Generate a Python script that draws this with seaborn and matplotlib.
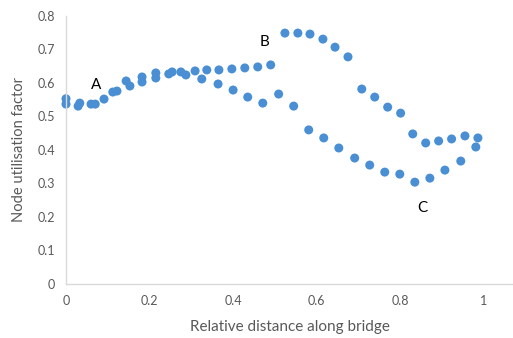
import matplotlib
matplotlib.use("Agg")
import matplotlib.pyplot as plt
import seaborn as sns
import pandas as pd

# values
distance = [0.0, 0.0, 0.029, 0.033, 0.06, 0.07, 0.091, 0.112, 0.122, 0.144, 0.153,
            0.182, 0.182, 0.215, 0.215, 0.246, 0.254, 0.275, 0.287, 0.309, 0.325,
            0.337, 0.364, 0.366, 0.397, 0.40, 0.428, 0.435, 0.459, 0.471, 0.490,
            0.509, 0.524, 0.545, 0.555, 0.581, 0.584, 0.615, 0.617, 0.644, 0.653,
            0.675, 0.691, 0.708, 0.727, 0.739, 0.763, 0.770, 0.799, 0.801, 0.830,
            0.835, 0.861, 0.871, 0.892, 0.907, 0.923, 0.945, 0.955, 0.981, 0.986]
utilisation = [0.553, 0.537, 0.531, 0.540, 0.537, 0.537, 0.552, 0.573, 0.576, 0.606, 0.591,
               0.618, 0.603, 0.630, 0.615, 0.627, 0.633, 0.633, 0.624, 0.636, 0.612,
               0.639, 0.597, 0.639, 0.642, 0.579, 0.645, 0.558, 0.648, 0.540, 0.654,
               0.567, 0.749, 0.531, 0.749, 0.460, 0.746, 0.731, 0.436, 0.707, 0.406,
               0.678, 0.376, 0.582, 0.355, 0.558, 0.334, 0.528, 0.328, 0.510, 0.448,
               0.304, 0.421, 0.316, 0.427, 0.340, 0.433, 0.367, 0.442, 0.409, 0.436]

point_labels = ["A", "B", "C"]
label_x = [0.072, 0.474, 0.852]
label_y = [0.594, 0.722, 0.227]

df = pd.DataFrame({"distance": distance, "utilisation": utilisation})

sns.set_style("white")
plt.rcParams["font.family"] = ["Lato", "DejaVu Sans"]

fig = plt.figure(figsize=(5.13, 3.38), dpi=100)
ax = fig.add_axes([66 / 513, 1 - 284 / 338, 1 - 66 / 513, (284 - 16) / 338])

sns.scatterplot(data=df, x="distance", y="utilisation", ax=ax,
                color="#4a8fd3", s=42, edgecolor="none", legend=False, clip_on=False)

for lab, lx, ly in zip(point_labels, label_x, label_y):
    ax.text(lx, ly, lab, ha="center", va="center", fontsize=11, color="black")

ax.set_xlim(0, 1.07)
ax.set_ylim(0, 0.8)
ax.set_xticks([0, 0.2, 0.4, 0.6, 0.8, 1.0])
ax.set_xticklabels(["0", "0.2", "0.4", "0.6", "0.8", "1"])
ax.set_yticks([0, 0.1, 0.2, 0.3, 0.4, 0.5, 0.6, 0.7, 0.8])
ax.set_yticklabels(["0", "0.1", "0.2", "0.3", "0.4", "0.5", "0.6", "0.7", "0.8"])
ax.tick_params(length=0, labelsize=9, labelcolor="#595959", pad=8)

ax.set_xlabel("Relative distance along bridge", fontsize=11, color="#595959", labelpad=9)
ax.set_ylabel("Node utilisation factor", fontsize=10.5, color="#595959", labelpad=8)

sns.despine(ax=ax)
for side in ["left", "bottom"]:
    ax.spines[side].set_color("#d9d9d9")
    ax.spines[side].set_linewidth(1.0)

fig.savefig("out.png", dpi=100)
